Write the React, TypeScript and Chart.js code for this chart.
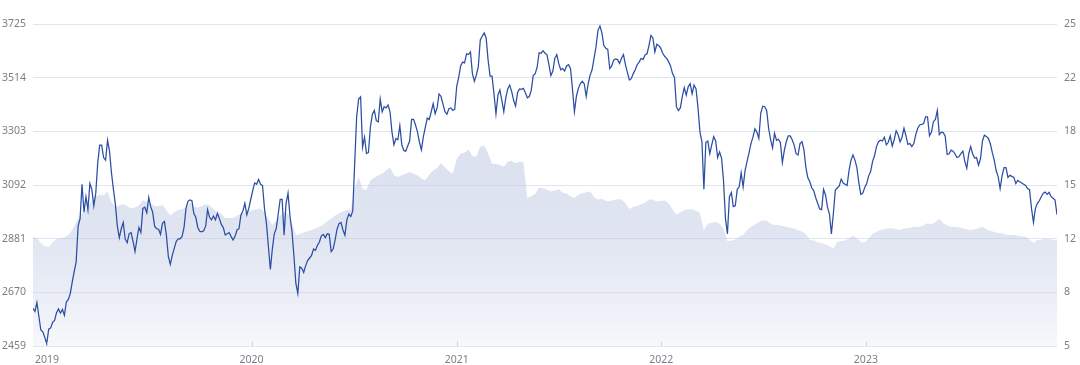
import React, { useEffect, useRef } from 'react';
import { Chart, registerables } from 'chart.js';

Chart.register(...registerables);

// Samples start at this date; index sampled twice a week, ratio weekly
const START_DATE = '2018-12-07';
const INDEX_STEP_DAYS = 3.5;
const PE_STEP_DAYS = 7;

const yearLabels = ['2019', '2020', '2021', '2022', '2023'];

const leftTickValues = [2459, 2670, 2881, 3092, 3303, 3514, 3725];
const rightTickValues = [5, 8.3333, 11.6667, 15, 18.3333, 21.6667, 25];
const rightTickLabels = ['5', '8', '12', '15', '18', '22', '25'];

// Index level (left axis), half-week samples
const indexValues = [
  2607, 2595, 2630, 2575, 2522, 2515, 2493, 2468, 2525, 2530, 2552, 2560, 2590, 2605, 2588, 2603, 2580, 2632, 2642, 2665,
  2710, 2751, 2790, 2930, 2960, 3095, 2985, 3046, 2995, 3098, 3075, 3010, 3060, 3180, 3249, 3249, 3200, 3190, 3268, 3225,
  3140, 3075, 3015, 2930, 2885, 2920, 2945, 2880, 2865, 2900, 2905, 2870, 2830, 2880, 2925, 2905, 3000, 3005, 2983, 3043,
  3007, 2985, 2930, 2920, 2918, 2898, 2941, 2948, 2895, 2810, 2780, 2815, 2843, 2870, 2880, 2880, 2890, 2925, 3000, 3028,
  3033, 3030, 2980, 2965, 2925, 2910, 2908, 2912, 2930, 2995, 2965, 2955, 2970, 2955, 2980, 2960, 2937, 2925, 2895, 2900,
  2905, 2889, 2876, 2890, 2915, 2920, 2974, 2990, 3020, 2975, 3000, 3035, 3070, 3100, 3095, 3114, 3095, 3090, 3000, 2940,
  2850, 2760, 2840, 2900, 2921, 2978, 3035, 3035, 2895, 3020, 3060, 2970, 2910, 2815, 2705, 2666, 2770, 2765, 2748, 2775,
  2795, 2805, 2815, 2840, 2835, 2855, 2868, 2892, 2898, 2885, 2900, 2898, 2830, 2840, 2876, 2918, 2940, 2945, 2915, 2895,
  2955, 2978, 2968, 2990, 3180, 3361, 3430, 3439, 3240, 3280, 3216, 3220, 3320, 3370, 3385, 3345, 3340, 3430, 3380, 3400,
  3395, 3407, 3380, 3300, 3250, 3275, 3270, 3325, 3250, 3228, 3225, 3245, 3265, 3350, 3350, 3328, 3300, 3260, 3230, 3282,
  3320, 3355, 3350, 3380, 3412, 3372, 3395, 3450, 3440, 3410, 3380, 3370, 3392, 3395, 3385, 3390, 3480, 3515, 3560, 3575,
  3572, 3608, 3605, 3615, 3530, 3500, 3524, 3557, 3662, 3677, 3690, 3670, 3583, 3520, 3520, 3450, 3372, 3445, 3465, 3425,
  3380, 3435, 3470, 3485, 3460, 3425, 3402, 3455, 3470, 3468, 3472, 3455, 3435, 3440, 3465, 3522, 3530, 3555, 3612, 3610,
  3620, 3610, 3605, 3565, 3522, 3540, 3590, 3605, 3570, 3545, 3550, 3540, 3560, 3565, 3550, 3470, 3380, 3440, 3472, 3490,
  3500, 3490, 3440, 3490, 3524, 3545, 3590, 3635, 3700, 3717, 3690, 3640, 3630, 3625, 3550, 3560, 3583, 3588, 3585, 3570,
  3590, 3605, 3565, 3535, 3505, 3510, 3530, 3545, 3565, 3575, 3590, 3585, 3603, 3608, 3640, 3680, 3670, 3615, 3645, 3640,
  3630, 3610, 3598, 3590, 3577, 3560, 3530, 3515, 3400, 3385, 3395, 3440, 3475, 3445, 3478, 3490, 3450, 3485, 3470, 3395,
  3300, 3262, 3075, 3260, 3265, 3215, 3250, 3282, 3265, 3200, 3222, 3198, 3110, 2960, 2900, 3046, 3062, 3007, 3010, 3075,
  3085, 3140, 3085, 3150, 3185, 3218, 3255, 3280, 3313, 3300, 3275, 3375, 3402, 3400, 3385, 3315, 3270, 3238, 3295, 3268,
  3272, 3258, 3180, 3228, 3262, 3285, 3285, 3270, 3249, 3215, 3210, 3255, 3262, 3230, 3160, 3120, 3105, 3080, 3070, 3042,
  3020, 2998, 2995, 3075, 3053, 3005, 2978, 2900, 2980, 3072, 3080, 3088, 3115, 3100, 3095, 3090, 3150, 3190, 3210, 3190,
  3160, 3100, 3055, 3060, 3082, 3098, 3128, 3145, 3185, 3208, 3243, 3262, 3268, 3265, 3280, 3250, 3260, 3285, 3245, 3270,
  3305, 3290, 3262, 3280, 3315, 3285, 3252, 3255, 3243, 3255, 3290, 3315, 3328, 3330, 3334, 3360, 3360, 3285, 3300, 3341,
  3350, 3385, 3290, 3300, 3298, 3285, 3212, 3215, 3229, 3225, 3215, 3200, 3203, 3215, 3225, 3185, 3158, 3215, 3243, 3215,
  3198, 3200, 3170, 3195, 3265, 3288, 3283, 3275, 3255, 3220, 3190, 3148, 3125, 3078, 3128, 3160, 3160, 3122, 3130, 3126,
  3122, 3098, 3110, 3105, 3100, 3095, 3090, 3078, 3074, 3000, 2945, 3000, 3020, 3030, 3046, 3060, 3064, 3055, 3063, 3046,
  3040, 3033, 2975,
];

// Valuation ratio (right axis, shaded area), weekly samples
const peValues = [
  11.78, 11.7, 11.4, 11.2, 11.15, 11.45, 11.65, 11.7, 11.75, 11.9,
  12.2, 12.7, 13.1, 13.35, 13.65, 14.0, 14.3, 14.4, 14.35, 14.6,
  13.95, 13.65, 13.75, 13.8, 13.7, 13.55, 13.6, 13.75, 14.05, 13.95,
  13.85, 13.7, 13.7, 13.75, 13.45, 13.1, 13.3, 13.45, 13.5, 13.6,
  13.9, 13.65, 13.6, 13.7, 13.8, 13.75, 13.5, 13.35, 13.2, 12.95,
  12.95, 12.95, 13.1, 13.2, 13.3, 13.35, 13.45, 13.5, 13.55, 13.3,
  12.9, 12.5, 12.8, 13.1, 13.3, 13.2, 12.6, 11.9, 11.95, 12.05,
  12.15, 12.2, 12.3, 12.4, 12.55, 12.75, 12.9, 13.1, 13.25, 13.35,
  13.45, 13.5, 14.8, 15.5, 14.75, 14.7, 15.3, 15.45, 15.6, 15.7,
  15.9, 16.1, 15.6, 15.5, 15.6, 15.7, 15.8, 15.7, 15.6, 15.4,
  15.3, 15.65, 15.9, 16.05, 16.35, 16.1, 15.85, 15.72, 16.6, 16.95,
  17.0, 17.2, 16.8, 16.76, 17.38, 17.45, 16.95, 16.3, 16.3, 16.24,
  16.14, 16.45, 16.5, 16.35, 16.45, 16.4, 14.2, 14.3, 14.45, 14.85,
  14.8, 14.7, 14.6, 14.65, 14.75, 14.5, 14.48, 14.3, 14.2, 14.4,
  14.48, 14.55, 14.59, 14.25, 14.1, 14.15, 14.0, 14.0, 14.07, 14.12,
  14.1, 13.86, 13.5, 13.65, 13.7, 13.8, 13.9, 14.1, 14.1, 13.97,
  14.0, 14.05, 13.86, 13.5, 13.15, 13.3, 13.45, 13.5, 13.5, 13.4,
  13.24, 12.2, 12.6, 12.65, 12.72, 12.6, 12.3, 11.5, 11.55, 11.6,
  11.8, 11.9, 12.2, 12.4, 12.55, 12.7, 12.8, 12.8, 12.6, 12.52,
  12.52, 12.45, 12.41, 12.35, 12.3, 12.2, 12.1, 11.95, 11.58, 11.55,
  11.45, 11.38, 11.3, 11.2, 11.05, 11.48, 11.5, 11.55, 11.7, 11.85,
  11.69, 11.45, 11.45, 11.7, 11.95, 12.1, 12.2, 12.25, 12.31, 12.31,
  12.25, 12.2, 12.3, 12.31, 12.38, 12.41, 12.41, 12.5, 12.62, 12.55,
  12.7, 12.9, 12.62, 12.5, 12.41, 12.41, 12.38, 12.31, 12.25, 12.2,
  12.25, 12.31, 12.4, 12.25, 12.15, 12.1, 12.02, 12.0, 11.92, 11.9,
  11.9, 11.85, 11.8, 11.8, 11.6, 11.4, 11.58, 11.6, 11.68, 11.65,
  11.6, 11.58,
];

const DAY_MS = 86400000;
function toDay(s: string): number {
  const [y, m, d] = s.split('-').map(Number);
  return Date.UTC(y, m - 1, d) / DAY_MS;
}
const startDay = toDay(START_DATE);
const indexDays = indexValues.map((_, i) => startDay + INDEX_STEP_DAYS * i);
const peDays = peValues.map((_, i) => startDay + PE_STEP_DAYS * i);

const LABEL_FONT = { family: '"Noto Sans", "DejaVu Sans", sans-serif', size: 10.5 };
const LABEL_COLOR = '#7b7e86';
const GRID_COLOR = '#e0e6f1';

// small inward tick marks on the x axis, at the year ticks
const innerTicks = {
  id: 'innerTicks',
  afterDatasetsDraw(chart: any) {
    const xs = chart.scales.x;
    const { ctx, chartArea } = chart;
    ctx.save();
    ctx.strokeStyle = '#c9ced9';
    ctx.lineWidth = 1;
    xs.ticks.forEach((t: any) => {
      const px = Math.round(xs.getPixelForValue(t.value)) + 0.5;
      ctx.beginPath();
      ctx.moveTo(px, chartArea.bottom);
      ctx.lineTo(px, chartArea.bottom - 4);
      ctx.stroke();
    });
    ctx.restore();
  },
};

export default function App() {
  const canvasRef = useRef<HTMLCanvasElement | null>(null);

  useEffect(() => {
    const canvas = canvasRef.current;
    if (!canvas) return;
    const chart = new Chart(canvas, {
      type: 'line',
      data: {
        datasets: [
          {
            label: 'index',
            data: indexDays.map((x, i) => ({ x, y: indexValues[i] })),
            yAxisID: 'y',
            borderColor: '#2b4ea3',
            borderWidth: 1.25,
            pointRadius: 0,
            tension: 0,
            fill: false,
            order: 0,
          },
          {
            label: 'pe',
            data: peDays.map((x, i) => ({ x, y: peValues[i] })),
            yAxisID: 'y1',
            borderWidth: 0,
            borderColor: 'rgba(0,0,0,0)',
            pointRadius: 0,
            tension: 0,
            fill: 'start',
            order: 1,
            backgroundColor: (ctx: any) => {
              const c = ctx.chart;
              const area = c.chartArea;
              if (!area) return 'rgba(187,197,225,0.5)';
              const g = c.ctx.createLinearGradient(0, 140, 0, area.bottom);
              g.addColorStop(0, 'rgba(187,197,225,0.52)');
              g.addColorStop(0.45, 'rgba(187,197,225,0.45)');
              g.addColorStop(0.75, 'rgba(187,197,225,0.3)');
              g.addColorStop(1, 'rgba(187,197,225,0.12)');
              return g;
            },
          },
        ],
      },
      options: {
        responsive: false,
        maintainAspectRatio: false,
        animation: false,
        devicePixelRatio: 1,
        layout: { padding: { top: 24, left: 0, right: 0, bottom: 0 } },
        plugins: {
          legend: { display: false },
          tooltip: { enabled: false },
        },
        scales: {
          x: {
            type: 'linear',
            min: startDay,
            max: peDays[peDays.length - 1],
            afterBuildTicks: (scale: any) => {
              scale.ticks = yearLabels.map((y) => ({ value: Date.UTC(Number(y), 0, 1) / DAY_MS }));
            },
            afterFit: (scale: any) => {
              scale.height = 19;
            },
            ticks: {
              autoSkip: false,
              maxRotation: 0,
              padding: 8,
              color: LABEL_COLOR,
              font: LABEL_FONT,
              callback: (_v: any, i: number) => yearLabels[i],
            },
            grid: {
              drawOnChartArea: false,
              drawTicks: false,
            },
            border: { display: false },
          },
          y: {
            position: 'left',
            min: leftTickValues[0],
            max: leftTickValues[leftTickValues.length - 1],
            afterBuildTicks: (scale: any) => {
              scale.ticks = leftTickValues.map((v) => ({ value: v }));
            },
            afterFit: (scale: any) => {
              scale.width = 33;
            },
            ticks: {
              padding: 7,
              color: LABEL_COLOR,
              font: LABEL_FONT,
              callback: (v: any) => String(v),
            },
            grid: { color: GRID_COLOR, drawTicks: false, lineWidth: 1 },
            border: { display: false },
          },
          y1: {
            position: 'right',
            min: rightTickValues[0],
            max: rightTickValues[rightTickValues.length - 1],
            afterBuildTicks: (scale: any) => {
              scale.ticks = rightTickValues.map((v) => ({ value: v }));
            },
            afterFit: (scale: any) => {
              scale.width = 23;
            },
            ticks: {
              padding: 7,
              color: LABEL_COLOR,
              font: LABEL_FONT,
              callback: (_v: any, i: number) => rightTickLabels[i],
            },
            grid: { drawOnChartArea: false, drawTicks: false },
            border: { display: false },
          },
        },
      },
      plugins: [innerTicks],
    } as any);
    return () => chart.destroy();
  }, []);

  return (
    <div style={{ position: 'fixed', left: 0, top: 0, width: 1080, height: 365, background: '#fff' }}>
      <canvas ref={canvasRef} width={1080} height={365} style={{ display: 'block' }} />
    </div>
  );
}
